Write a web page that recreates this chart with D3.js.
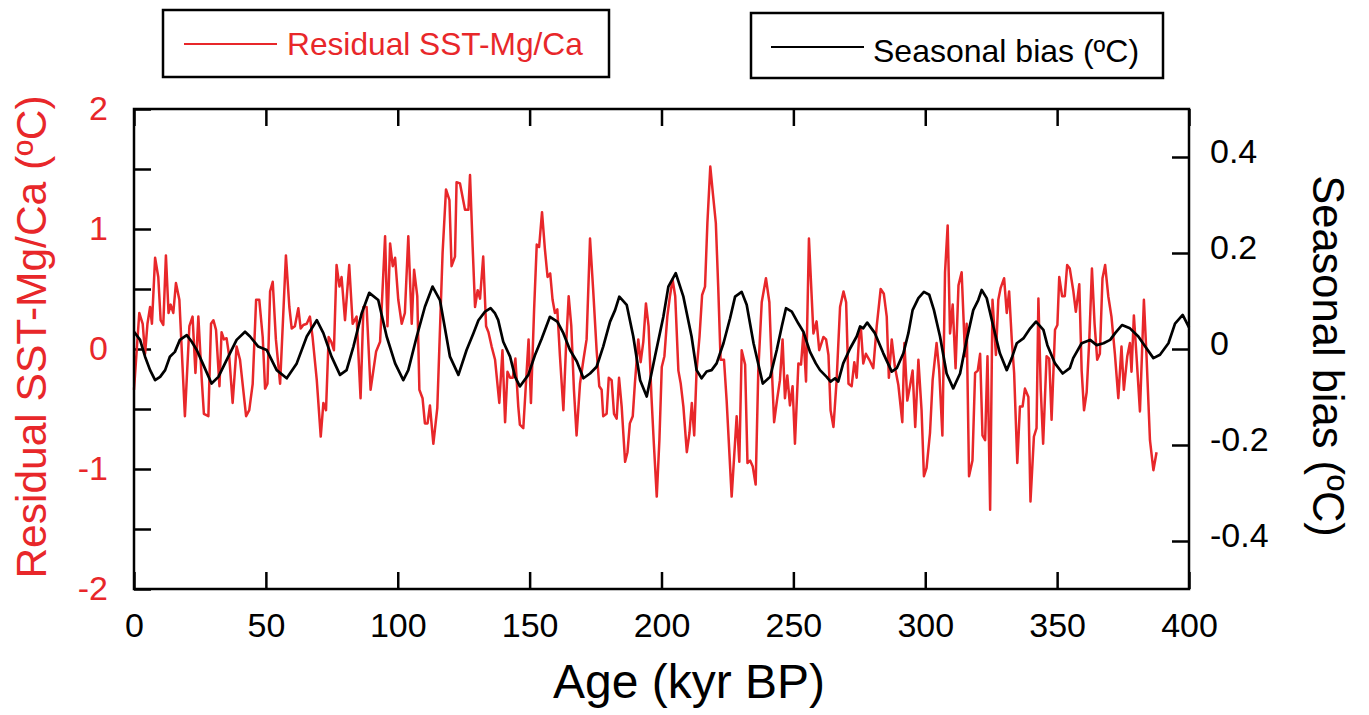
<!DOCTYPE html>
<html>
<head>
<meta charset="utf-8">
<script src="https://cdn.jsdelivr.net/npm/d3@7"></script>
<style>
  body { margin: 0; background: #fff; }
  svg { font-family: "Liberation Sans", Arial, sans-serif; }
</style>
</head>
<body>
<svg id="chart" width="1369" height="715"></svg>
<script>
// Residual SST-Mg/Ca (°C), left axis
const residualAge = [0, 2.0, 3.3, 4.2, 5.1, 6.1, 6.8, 8.0, 9.2, 10.1, 11.1, 12.1, 13.1, 13.9, 14.9, 15.9, 17.2, 19.3, 21.0, 22.2,
  23.3, 24.4, 25.7, 26.5, 28.2, 29.2, 30.1, 31.1, 32.4, 33.2, 34.1, 35.1, 36.1, 37.4, 38.9, 40.2, 42.5, 43.7, 45.0, 46.3,
  47.5, 48.8, 49.7, 50.6, 51.6, 52.6, 53.8, 55.4, 57.6, 58.9, 59.8, 61.0, 62.3, 63.2, 64.2, 65.5, 66.7, 67.7, 69.3, 70.8,
  71.8, 72.8, 73.8, 74.8, 75.8, 76.8, 77.9, 78.7, 80.0, 81.6, 82.9, 84.4, 85.9, 87.0, 88.2, 89.7, 91.8, 93.3, 95.2, 96.1,
  97.1, 98.1, 99.0, 100.2, 101.5, 102.7, 104.0, 105.3, 106.2, 107.4, 108.2, 109.4, 110.3, 111.3, 112.2, 113.5, 115.0, 117.0, 118.3, 119.6,
  120.4, 121.7, 122.3, 123.6, 125.5, 126.8, 127.4, 128.4, 129.3, 130.3, 131.2, 132.4, 133.5, 134.4, 135.6, 136.9, 138.5, 139.7, 140.7, 141.6,
  142.6, 143.6, 144.6, 145.7, 146.3, 147.6, 148.6, 149.6, 150.5, 151.7, 152.7, 153.6, 154.7, 155.8, 156.8, 157.8, 158.7, 159.6, 160.5, 161.5,
  162.8, 163.8, 164.8, 165.8, 166.8, 167.8, 169.1, 170.4, 171.6, 172.9, 174.1, 175.4, 176.4, 177.3, 177.9, 179.2, 180.0, 181.1, 182.0, 183.0,
  183.9, 184.9, 186.2, 187.1, 188.0, 189.1, 189.9, 191.2, 192.1, 193.1, 194.1, 195.1, 196.2, 197.1, 198.2, 199.2, 200.1, 201.1, 202.2, 203.2,
  204.2, 205.2, 206.4, 207.3, 208.3, 209.6, 210.6, 211.5, 212.4, 213.3, 214.4, 215.4, 216.5, 217.4, 218.5, 219.6, 220.6, 221.5, 222.4, 223.7,
  224.7, 226.6, 228.5, 229.5, 230.4, 231.7, 232.6, 233.6, 234.6, 235.7, 236.7, 238.0, 239.6, 240.9, 241.8, 242.7, 243.9, 244.9, 245.9, 246.8,
  247.7, 248.7, 249.7, 250.6, 251.9, 252.9, 253.8, 254.8, 255.9, 257.6, 258.8, 259.8, 261.4, 262.4, 263.3, 264.1, 265.2, 266.4, 267.7, 269.0,
  270.0, 270.9, 272.1, 273.1, 274.0, 275.0, 275.6, 276.5, 277.5, 278.8, 280.3, 281.6, 283.1, 284.3, 285.4, 286.2, 287.3, 288.5, 289.8, 291.3,
  292.1, 293.2, 294.2, 295.2, 296.2, 297.4, 298.6, 299.5, 300.5, 301.8, 302.8, 304.3, 305.3, 306.5, 307.5, 308.5, 309.4, 310.4, 311.5, 312.6,
  313.8, 315.1, 315.7, 316.6, 317.9, 318.9, 319.9, 320.8, 321.7, 322.7, 323.6, 324.6, 325.5, 326.8, 327.7, 328.6, 329.9, 330.9, 331.8, 332.8,
  333.7, 334.9, 335.9, 336.9, 337.8, 339.1, 339.9, 341.2, 342.2, 342.9, 343.8, 344.7, 346.0, 347.0, 347.9, 349.2, 350.1, 350.8, 351.9, 352.9,
  353.8, 354.8, 356.1, 357.1, 358.4, 359.3, 360.2, 361.2, 362.2, 363.2, 364.2, 365.2, 366.2, 367.2, 368.2, 369.4, 370.6, 371.9, 373.2, 374.4,
  375.3, 376.6, 377.6, 378.2, 379.1, 380.1, 381.4, 382.9, 383.9, 385.2, 386.5, 387.7];
const residualSst = [-0.34, 0.30, 0.21, -0.04, 0.21, 0.35, 0.21, 0.76, 0.60, 0.24, 0.20, 0.78, 0.30, 0.37, 0.30, 0.55, 0.41, -0.56, 0.19, 0.27,
  -0.20, 0.27, -0.26, -0.54, -0.56, 0.21, 0.24, 0.16, -0.31, 0.14, 0.08, 0.09, -0.06, -0.45, 0.02, -0.09, -0.56, -0.51, -0.29, 0.41,
  0.41, 0.10, -0.33, -0.29, 0.48, 0.56, 0.08, -0.29, 0.78, 0.35, 0.17, 0.19, 0.34, 0.17, 0.20, 0.21, 0.27, 0.10, -0.26, -0.73,
  -0.45, -0.51, 0.10, 0.06, -0.01, 0.70, 0.52, 0.60, 0.24, 0.70, 0.21, 0.27, -0.41, 0.35, 0.35, -0.34, -0.02, 0.06, 0.94, 0.19,
  0.88, 0.69, 0.76, 0.41, 0.21, 0.30, 0.94, 0.21, 0.66, 0.44, -0.34, -0.41, -0.62, -0.62, -0.47, -0.79, -0.49, 0.80, 1.33, 1.24,
  0.69, 0.77, 1.39, 1.38, 1.16, 1.16, 1.45, 0.85, 0.35, 0.49, 0.42, 0.77, 0.19, 0.14, 0.02, -0.09, -0.45, -0.01, -0.61, -0.19,
  -0.24, -0.24, -0.08, -0.48, -0.63, -0.66, -0.29, 0.08, -0.45, 0.33, 0.87, 0.85, 1.14, 0.83, 0.60, 0.63, 0.41, 0.30, 0.33, -0.06,
  -0.51, 0.02, 0.44, 0.19, -0.34, -0.72, -0.29, -0.09, 0.08, 0.92, 0.49, -0.01, -0.31, -0.34, -0.56, -0.54, -0.24, -0.26, -0.54, -0.58,
  -0.24, -0.48, -0.94, -0.86, -0.62, -0.56, -0.29, 0.08, -0.11, 0.06, 0.38, 0.19, -0.40, -0.79, -1.23, -0.76, -0.15, -0.06, 0.27, 0.44,
  0.58, 0.44, -0.18, -0.29, -0.48, -0.86, -0.70, -0.45, -0.72, -0.18, 0.10, 0.45, 0.52, 1.05, 1.52, 1.27, 1.05, 0.52, -0.09, -0.09,
  -0.43, -1.23, -0.56, -0.94, -0.01, -0.13, -0.95, -0.93, -0.98, -1.13, -0.18, 0.39, 0.59, 0.39, -0.15, -0.61, -0.41, -0.26, 0.08, -0.41,
  -0.22, -0.47, -0.31, -0.79, -0.12, -0.13, 0.13, -0.27, 0.92, 0.13, 0.23, -0.01, 0.10, 0.08, -0.05, -0.51, -0.65, -0.26, 0.35, 0.48,
  0.39, -0.29, -0.31, -0.11, -0.24, 0.13, 0.17, -0.12, -0.04, -0.09, -0.16, 0.19, 0.50, 0.46, 0.27, -0.24, 0.08, -0.15, -0.30, -0.61,
  0.05, -0.43, -0.31, -0.18, -0.65, -0.09, -0.51, -1.06, -0.99, -0.70, -0.26, 0.05, -0.18, -0.72, 0.64, 1.03, 0.13, 0.37, -0.16, 0.53,
  0.64, -0.06, 0.21, -1.06, -0.93, -0.20, -0.18, -0.04, -0.72, -0.76, -0.06, -1.34, 0.41, -0.05, 0.41, 0.51, 0.59, 0.30, 0.48, 0.08,
  -0.20, -0.95, -0.48, -0.48, -0.33, -0.40, -1.27, -0.73, -0.66, 0.42, -0.34, -0.79, -0.06, -0.08, -0.59, 0.16, 0.20, 0.60, 0.44, 0.44,
  0.70, 0.67, 0.49, 0.31, 0.54, -0.18, -0.51, -0.36, 0.08, 0.67, 0.21, -0.09, -0.04, 0.59, 0.70, 0.44, 0.27, -0.04, -0.41, 0.02,
  -0.34, -0.06, 0.05, -0.19, 0.28, -0.06, -0.52, 0.41, -0.06, -0.76, -1.01, -0.86];

// Seasonal bias (°C), right axis
const biasAge = [0, 2.3, 4.2, 6.1, 8.0, 9.9, 11.8, 13.6, 15.5, 17.4, 20.0, 21.9, 23.8, 26.3, 29.4, 32.0, 35.1, 38.9, 42.1, 44.0,
  47.1, 50.3, 54.1, 57.9, 61.7, 65.5, 69.3, 71.8, 74.9, 78.1, 80.6, 83.2, 86.3, 89.2, 92.6, 95.8, 99.0, 102.1, 104.0, 107.2,
  110.3, 113.2, 116.0, 119.8, 123.0, 126.1, 128.7, 130.6, 133.1, 135.2, 136.9, 138.1, 140.0, 142.6, 144.5, 146.3, 149.5, 152.0, 154.6, 157.7,
  160.5, 162.8, 165.3, 167.9, 170.4, 172.9, 175.4, 177.9, 180.5, 182.4, 184.0, 186.8, 189.3, 191.9, 194.4, 197.5, 200.7, 202.6, 205.4, 208.3,
  211.4, 213.3, 215.2, 217.1, 219.0, 220.9, 223.5, 226.0, 227.9, 230.4, 232.3, 234.9, 238.4, 241.2, 243.7, 245.6, 247.2, 249.4, 251.9, 253.8,
  256.3, 258.5, 260.1, 262.6, 264.1, 265.8, 267.0, 268.9, 271.5, 274.0, 275.3, 276.5, 278.0, 280.9, 284.1, 287.3, 289.2, 291.7, 293.6, 295.2,
  297.4, 299.5, 301.5, 303.3, 305.6, 308.1, 310.6, 313.2, 315.7, 318.2, 320.1, 321.4, 323.3, 325.8, 328.3, 330.9, 332.8, 334.7, 337.2, 339.8,
  342.0, 344.8, 346.3, 349.2, 352.1, 354.8, 356.1, 359.3, 362.5, 365.0, 367.6, 370.1, 372.0, 374.6, 377.6, 380.8, 383.4, 386.5, 389.0, 392.2,
  394.7, 397.6, 400.0];
const biasVal = [0.036, 0.019, -0.016, -0.044, -0.065, -0.058, -0.044, -0.016, -0.006, 0.019, 0.029, 0.015, -0.002, -0.033, -0.072, -0.058, -0.023, 0.019, 0.036, 0.026,
  0.005, -0.002, -0.044, -0.061, -0.030, 0.026, 0.060, 0.033, -0.016, -0.054, -0.044, 0.005, 0.074, 0.117, 0.102, 0.026, -0.030, -0.065, -0.044, 0.026,
  0.088, 0.130, 0.102, -0.016, -0.054, -0.002, 0.033, 0.060, 0.078, 0.085, 0.074, 0.060, 0.015, -0.016, -0.058, -0.078, -0.054, -0.013, 0.022, 0.067,
  0.057, 0.033, -0.002, -0.026, -0.061, -0.051, -0.037, 0.005, 0.057, 0.081, 0.109, 0.092, 0.026, -0.065, -0.099, -0.016, 0.067, 0.130, 0.158, 0.109,
  0.026, -0.044, -0.061, -0.047, -0.044, -0.030, 0.012, 0.064, 0.109, 0.119, 0.092, 0.012, -0.072, -0.058, -0.002, 0.047, 0.085, 0.078, 0.053, 0.036,
  -0.006, -0.030, -0.044, -0.058, -0.068, -0.061, -0.068, -0.030, 0.001, 0.026, 0.047, 0.043, 0.055, 0.033, -0.009, -0.047, -0.040, -0.009, 0.033, 0.081,
  0.106, 0.119, 0.113, 0.081, 0.026, -0.051, -0.082, -0.051, 0.019, 0.081, 0.102, 0.123, 0.106, 0.047, -0.009, -0.044, -0.019, 0.012, 0.022, 0.043,
  0.057, 0.040, 0.008, -0.030, -0.051, -0.040, -0.019, 0.012, 0.019, 0.008, 0.012, 0.019, 0.033, 0.050, 0.043, 0.026, 0.005, -0.019, -0.012, 0.012,
  0.053, 0.071, 0.045];

const xTicks = [0, 50, 100, 150, 200, 250, 300, 350, 400];
const leftTicks = [-2, -1.5, -1, -0.5, 0, 0.5, 1, 1.5, 2];
const rightTicks = [-0.4, -0.2, 0, 0.2, 0.4];

const RED = "#e8272a";

const svg = d3.select("#chart");
const margin = { top: 109, right: 180, bottom: 126, left: 134 };
const width = 1369, height = 715;
const x0 = margin.left, x1 = width - margin.right;
const y0 = margin.top, y1 = height - margin.bottom;

let x = d3.scaleLinear().domain([0, 400]).range([x0, x1]);
let yL = d3.scaleLinear().domain([-2, 2]).range([y1, y0]);
let yR = d3.scaleLinear().domain([-0.5, 0.5]).range([y1, y0]);

const tickLen = 17;

// axes
let xAxis = svg.append("g")
  .attr("transform", `translate(0,${y1})`)
  .call(d3.axisBottom(x).tickValues(xTicks).tickSizeInner(-tickLen).tickSizeOuter(0).tickPadding(24));

let xTop = svg.append("g")
  .attr("transform", `translate(0,${y0})`)
  .call(d3.axisTop(x).tickValues(xTicks).tickSizeInner(-tickLen).tickSizeOuter(0).tickFormat(""));

let yAxisL = svg.append("g")
  .attr("transform", `translate(${x0},0)`)
  .call(d3.axisLeft(yL).tickValues(leftTicks).tickSizeInner(-tickLen).tickSizeOuter(0).tickPadding(26)
    .tickFormat(d => Number.isInteger(d) ? String(d) : ""));

let yAxisR = svg.append("g")
  .attr("transform", `translate(${x1},0)`)
  .call(d3.axisRight(yR).tickValues(rightTicks).tickSizeInner(-tickLen).tickSizeOuter(0).tickPadding(21)
    .tickFormat(d => d === 0 ? "0" : d3.format(".1f")(d).replace("−", "-")));

svg.selectAll(".domain").remove();
svg.selectAll(".tick line").attr("stroke", "#000").attr("stroke-width", 2.5);
svg.selectAll(".tick text").attr("font-size", 34).attr("font-family", "Liberation Sans, Arial, sans-serif").attr("fill", "#000");
yAxisL.selectAll(".tick text").attr("fill", RED);
yAxisR.selectAll(".tick text").attr("dy", "0.15em");

// curves
let lineRes = d3.line().x((d, i) => x(residualAge[i])).y(d => yL(d));
let lineBias = d3.line().x((d, i) => x(biasAge[i])).y(d => yR(d));

svg.append("path")
  .attr("d", lineRes(residualSst))
  .attr("fill", "none")
  .attr("stroke", RED)
  .attr("stroke-width", 2.5)
  .attr("stroke-linejoin", "round");

svg.append("path")
  .attr("d", lineBias(biasVal))
  .attr("fill", "none")
  .attr("stroke", "#000")
  .attr("stroke-width", 2.7)
  .attr("stroke-linejoin", "round");

// frame
svg.append("rect")
  .attr("x", x0).attr("y", y0)
  .attr("width", x1 - x0).attr("height", y1 - y0)
  .attr("fill", "none")
  .attr("stroke", "#000")
  .attr("stroke-width", 2.5);

// axis titles
svg.append("text")
  .attr("transform", `translate(46,${(y0 + y1) / 2 - 12}) rotate(-90)`)
  .attr("text-anchor", "middle")
  .attr("font-size", 42.5)
  .attr("fill", RED)
  .text("Residual SST-Mg/Ca (ºC)");

svg.append("text")
  .attr("transform", `translate(1313,${(y0 + y1) / 2 + 7}) rotate(90)`)
  .attr("text-anchor", "middle")
  .attr("font-size", 43.5)
  .attr("fill", "#000")
  .text("Seasonal bias (ºC)");

svg.append("text")
  .attr("x", 689)
  .attr("y", 698)
  .attr("text-anchor", "middle")
  .attr("font-size", 48)
  .attr("fill", "#000")
  .text("Age (kyr BP)");

// legends
function legend(bx, by, bw, bh, lx1, lx2, ly, tx, ty, color, label, fs) {
  let g = svg.append("g");
  g.append("rect")
    .attr("x", bx).attr("y", by).attr("width", bw).attr("height", bh)
    .attr("fill", "#fff").attr("stroke", "#000").attr("stroke-width", 2.5);
  g.append("line")
    .attr("x1", lx1).attr("x2", lx2).attr("y1", ly).attr("y2", ly)
    .attr("stroke", color).attr("stroke-width", 2.2);
  g.append("text")
    .attr("x", tx).attr("y", ty)
    .attr("font-size", fs)
    .attr("fill", color)
    .text(label);
}

legend(163, 10, 446, 67, 184, 277, 44, 287, 55, RED, "Residual SST-Mg/Ca", 31.7);
legend(751, 13, 412, 65, 771, 864, 47, 873, 62, "#000", "Seasonal bias (ºC)", 32);
</script>
</body>
</html>
